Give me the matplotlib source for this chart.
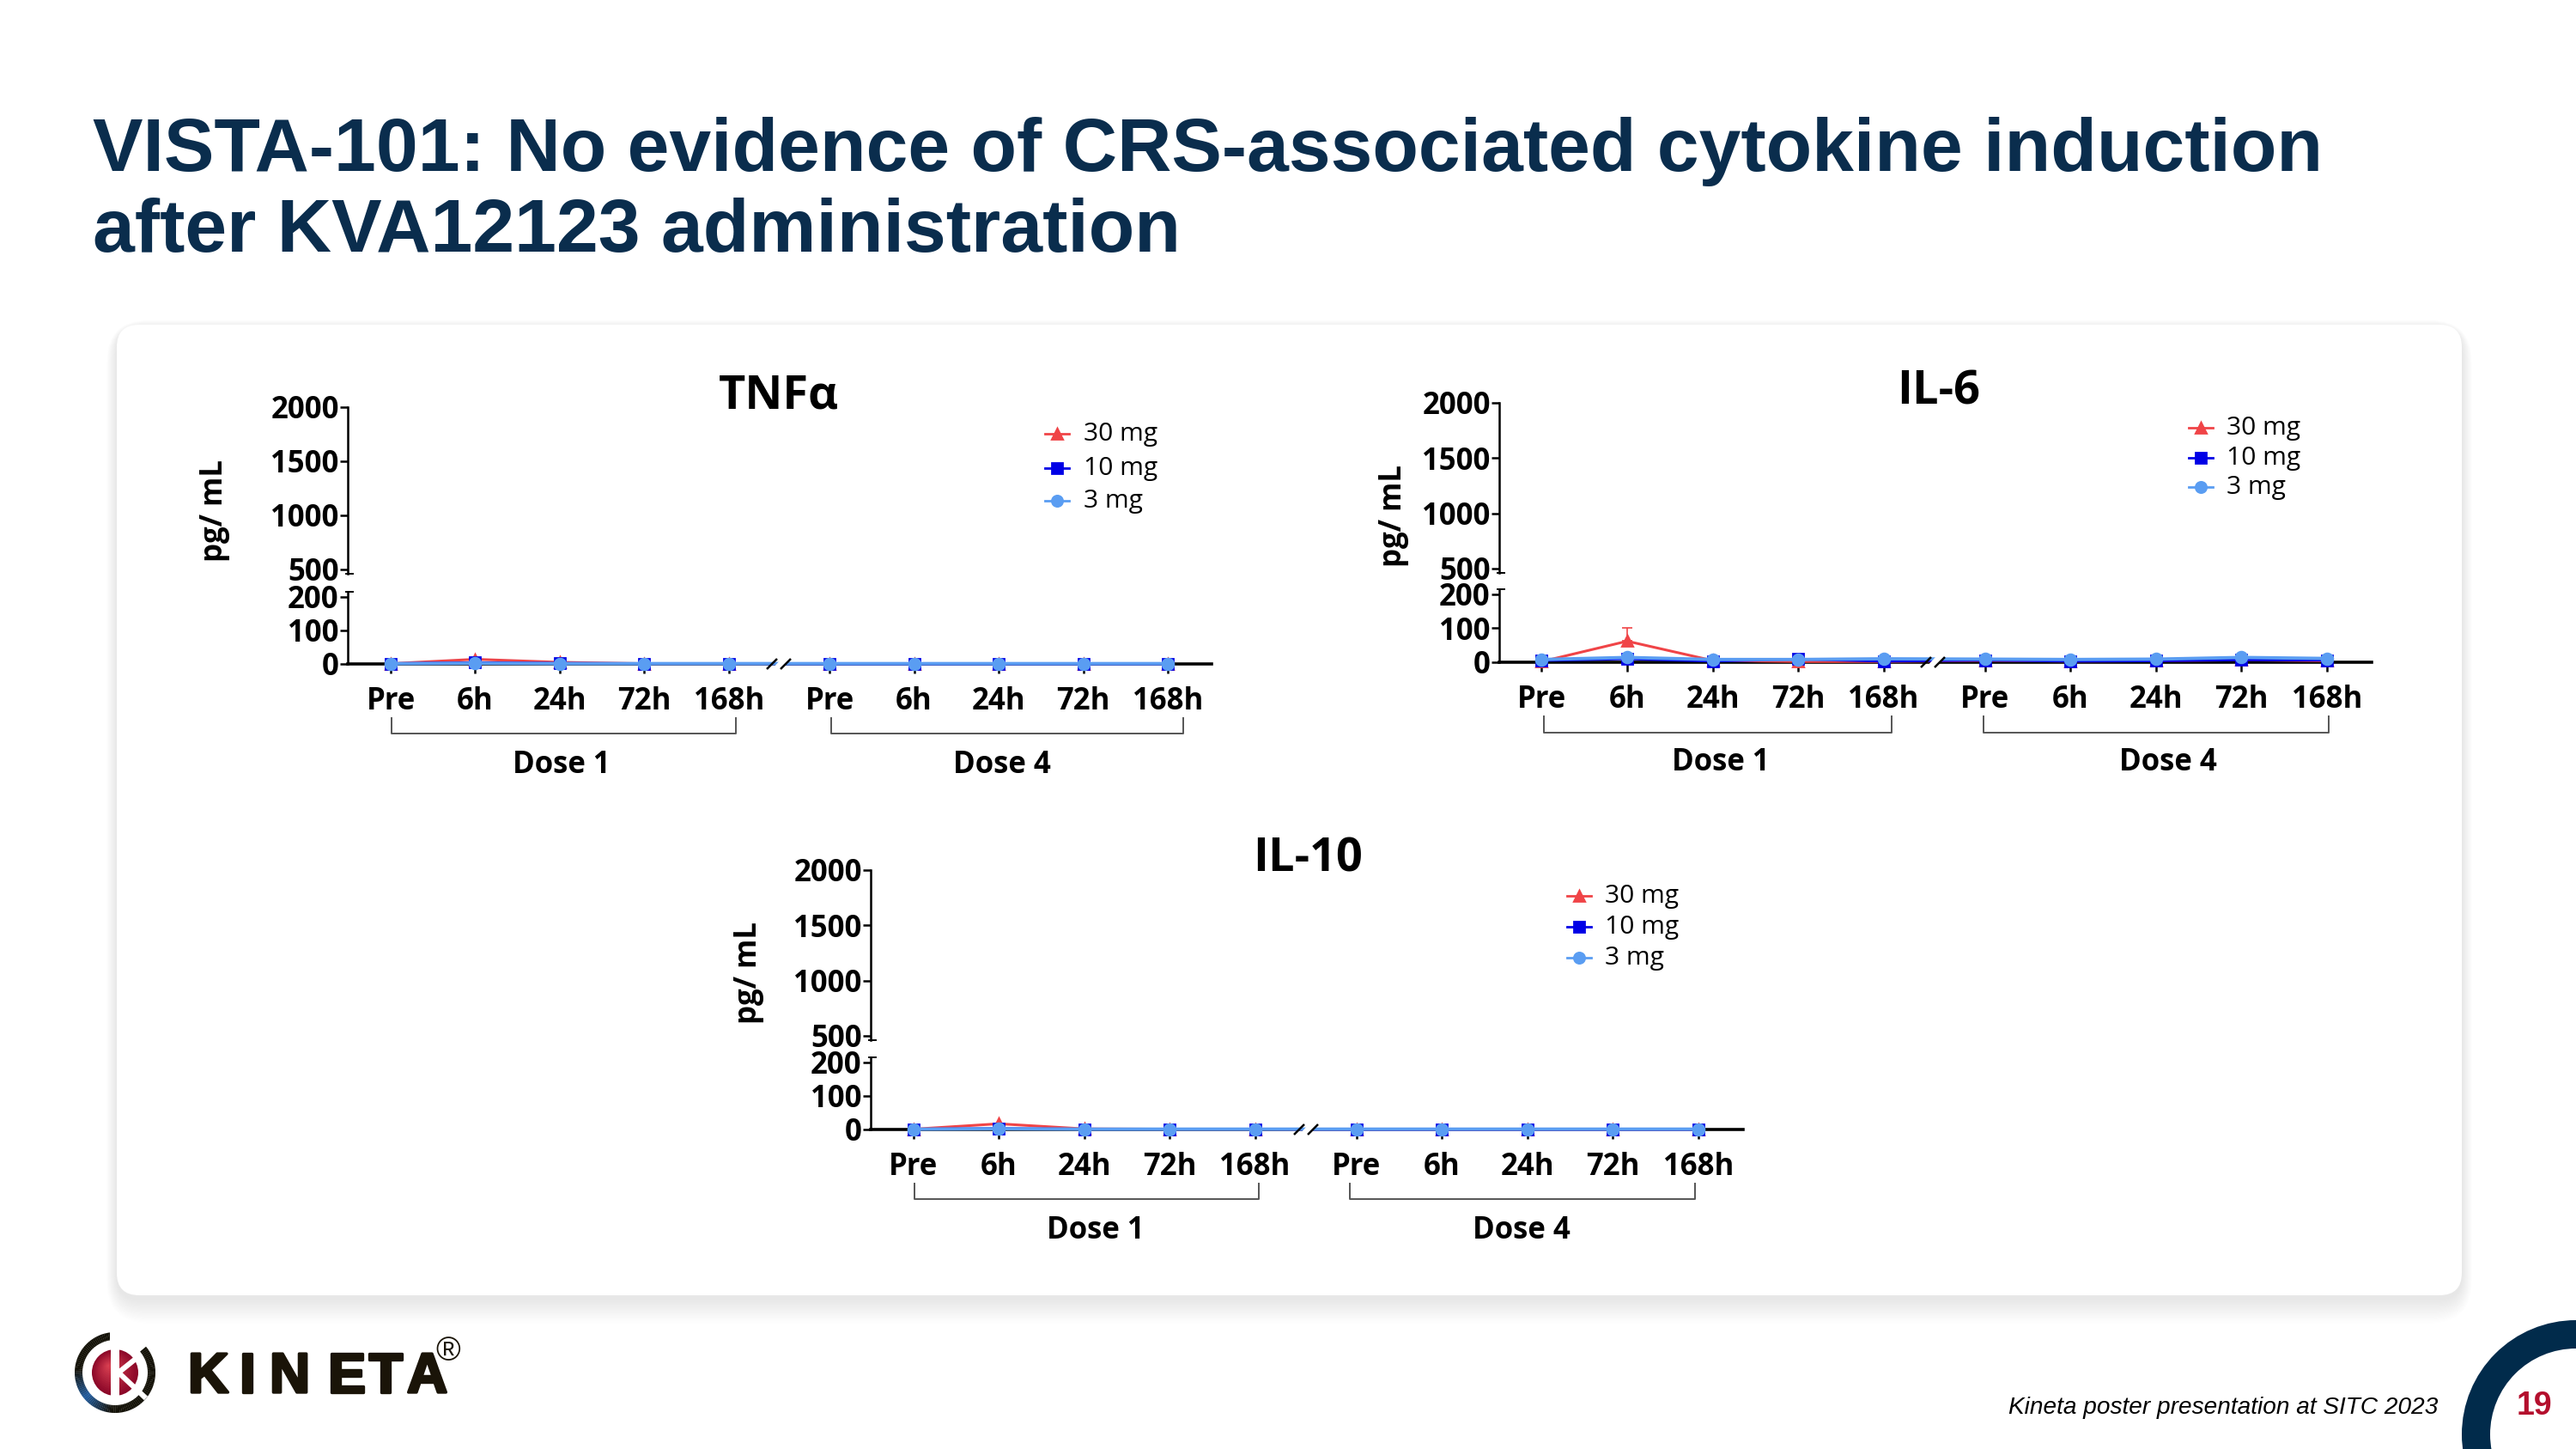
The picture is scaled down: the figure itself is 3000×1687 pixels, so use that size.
import matplotlib
matplotlib.use('Agg')
import matplotlib.pyplot as plt
from matplotlib.patches import FancyBboxPatch, Wedge, Circle, Rectangle, Polygon
import matplotlib.patheffects as pe
import numpy as np

W, H = 3000, 1687

TITLE_LINES = ['VISTA-101: No evidence of CRS-associated cytokine induction',
               'after KVA12123 administration']
FOOTER = 'Kineta poster presentation at SITC 2023'
PAGE = '19'

TIMES = ['Pre', '6h', '24h', '72h', '168h']
DOSES = ['Dose 1', 'Dose 4']
YTICKS_TOP = [500, 1000, 1500, 2000]
YTICKS_LOW = [0, 100, 200]
SERIES = ['30 mg', '10 mg', '3 mg']

# valores (pg/mL), dosis 1 + dosis 4
tnf_30 = [1, 14, 5, 1, 1, 1, 1, 1, 1, 1]
tnf_10 = [1, 4, 2, 1, 1, 0, 0, 0, 0, 0]
tnf_3 = [1, 2, 1, 1, 1, 1, 1, 1, 1, 1]

il6_30 = [2, 62, 5, 2, 2, 5, 3, 4, 7, 4]
il6_10 = [5, 10, 3, 9, 3, 6, 3, 4, 7, 6]
il6_3 = [8, 14, 8, 8, 10, 9, 8, 9, 14, 11]
il6_err = [0, 38, 0, 0, 0, 0, 0, 0, 0, 0]

il10_30 = [1, 17, 2, 1, 1, 0, 0, 0, 0, 0]
il10_10 = [1, 3, 1, 1, 1, 0, 0, 0, 0, 0]
il10_3 = [1, 2, 1, 1, 1, 1, 1, 1, 1, 1]

COL_30 = '#f04447'
COL_10 = '#0000e6'
COL_3 = '#5a9df2'
NAVY = '#0a2d4d'
TXT_FONT = 'Open Sans'

fig = plt.figure(figsize=(15, 8.435), dpi=200, facecolor='white')


def px_axes(x0, y_top, x1, y_bot, **kw):
    # ejes colocados en pixeles de la imagen
    return fig.add_axes([x0 / W, 1 - y_bot / H, (x1 - x0) / W, (y_bot - y_top) / H], **kw)


bg = fig.add_axes([0, 0, 1, 1], zorder=0)
bg.set_xlim(0, W)
bg.set_ylim(H, 0)
bg.axis('off')
fg = fig.add_axes([0, 0, 1, 1], zorder=5)
fg.set_xlim(0, W)
fg.set_ylim(H, 0)
fg.axis('off')
fg.patch.set_alpha(0)

# tarjeta con sombra
for i in range(24, 0, -1):
    bg.add_patch(FancyBboxPatch((136 - i * 0.5, 378 + 4 - i * 0.4), 2731 + i * 1.0, 1130 + i * 1.6,
                                boxstyle='round,pad=0,rounding_size=%d' % (26 + i), fc='#000000',
                                ec='none', alpha=0.0028))
bg.add_patch(FancyBboxPatch((136, 378), 2731, 1130, boxstyle='round,pad=0,rounding_size=26',
                            fc='white', ec='none'))

for k, line in enumerate(TITLE_LINES):
    bg.text(108, 176 + k * 94, line, fontsize=31.6, fontweight='bold', family='Liberation Sans',
            color=NAVY, va='center', ha='left')

xpos = np.r_[np.arange(5), np.arange(5) + 5.19]


def panel(name, d30, d10, d3, err, g):
    x0, x1, y2000, y_top_end, y_low_top, y0 = g['axis']
    step = (g['last'] - g['first']) / xpos[-1]
    xl = (-(g['first'] - x0) / step, (x1 - g['first']) / step)

    top = px_axes(x0, y2000, x1, y_top_end, zorder=2)
    low = px_axes(x0, y_low_top, x1, y0, zorder=3)
    for a in (top, low):
        a.patch.set_alpha(0)
        a.set_xlim(*xl)
        a.spines['top'].set_visible(False)
        a.spines['right'].set_visible(False)
        a.spines['left'].set_linewidth(0.9)
        a.tick_params(axis='y', length=3.2, width=0.9, pad=0.5, labelsize=12.5)
    top.set_ylim(460, 2000)
    top.set_yticks(YTICKS_TOP)
    top.spines['bottom'].set_visible(False)
    top.set_xticks([])
    low.set_ylim(0, 215)
    low.set_yticks(YTICKS_LOW)
    low.spines['bottom'].set_linewidth(1.3)
    low.set_xticks(xpos, TIMES + TIMES, fontsize=12.5)
    low.tick_params(axis='x', length=3.8, width=0.9, pad=5.5)
    for a in (top, low):
        for lab in a.get_xticklabels() + a.get_yticklabels():
            lab.set_family(TXT_FONT)
            lab.set_fontweight('bold')

    if err is not None:
        low.errorbar(xpos, d30, yerr=[np.zeros(10), err], fmt='none', ecolor=COL_30, elinewidth=0.6,
                     capsize=2.2, capthick=0.6, clip_on=False, zorder=3)
    low.plot(xpos, d30, color=COL_30, marker='^', ms=4.5, lw=1.1, clip_on=False, zorder=4)
    low.plot(xpos, d10, color=COL_10, marker='s', ms=4.3, lw=1.1, clip_on=False, zorder=5)
    low.plot(xpos, d3, color=COL_3, marker='o', ms=4.6, lw=1.4, clip_on=False, zorder=6)

    # corte del eje x
    xb = g['brk']
    fg.add_patch(Polygon([(xb - 8, y0 + 6), (xb + 3, y0 - 6), (xb + 13, y0 - 6), (xb + 2, y0 + 6)],
                         fc='white', ec='none'))
    for dx in (-8, 8):
        fg.plot([xb + dx - 6, xb + dx + 6], [y0 + 6, y0 - 6], color='black', lw=0.9, solid_capstyle='butt')
    # corte del eje y
    for yy in (y_top_end, y_low_top):
        fg.plot([x0 - 2, x0 + 6], [yy, yy], color='black', lw=0.7)

    fg.text(g['title'][0], g['title'][1], name, fontsize=19.5, fontweight='bold', family=TXT_FONT,
            ha='center', va='center')
    fg.text(g['ylab'][0], g['ylab'][1], 'pg/ mL', fontsize=12.5, fontweight='bold', family=TXT_FONT,
            rotation=90, ha='center', va='center')

    for (bx0, bx1), dose, dx in zip(g['brackets'], DOSES, g['dose_x']):
        fg.plot([bx0, bx0, bx1, bx1], [g['br_y'][0], g['br_y'][1], g['br_y'][1], g['br_y'][0]],
                color='#555555', lw=0.7)
        fg.text(dx, g['dose_y'], dose, fontsize=12.5, fontweight='bold', family=TXT_FONT,
                ha='center', va='center')

    lx, ltx = g['leg_x']
    for yy, lab, col, mk in zip(g['leg_y'], SERIES, [COL_30, COL_10, COL_3], ['^', 's', 'o']):
        fg.plot([lx - 14, lx + 14], [yy, yy], color=col, lw=1.0)
        fg.plot([lx], [yy], color=col, marker=mk, ms=4.4)
        fg.text(ltx, yy, lab, fontsize=10.8, family=TXT_FONT, ha='left', va='center')


panel('TNFα', tnf_30, tnf_10, tnf_3, None,
      dict(axis=(405, 1411, 474, 668, 689, 773), first=455, last=1360, brk=907, title=(907, 461), ylab=(250, 595),
           brackets=[(456, 857), (968, 1378)], dose_x=(654, 1167), br_y=(836, 854), dose_y=891,
           leg_x=(1231, 1262), leg_y=(505, 545, 583)))
panel('IL-6', il6_30, il6_10, il6_3, il6_err,
      dict(axis=(1746, 2762, 469, 667, 686, 771), first=1795.5, last=2710, brk=2251, title=(2258, 456), ylab=(1623, 600),
           brackets=[(1798, 2203), (2310, 2712)], dose_x=(2004, 2525), br_y=(834, 853), dose_y=888,
           leg_x=(2563, 2593), leg_y=(498, 533, 567)))
panel('IL-10', il10_30, il10_10, il10_3, None,
      dict(axis=(1014, 2030, 1013, 1211, 1231, 1315), first=1063.5, last=1978, brk=1521, title=(1523, 1000), ylab=(872, 1133),
           brackets=[(1065, 1466), (1572, 1974)], dose_x=(1276, 1772), br_y=(1378, 1396), dose_y=1433,
           leg_x=(1839, 1869), leg_y=(1043, 1079, 1115)))

# pie de pagina
fg.text(2839, 1639, FOOTER, fontsize=10.1, style='italic', family='Liberation Sans', ha='right', va='center')
fg.add_patch(Wedge((3000, 1670), 133, 90, 270, width=33, fc='#012b4b', ec='none', clip_on=True))
fg.text(2951, 1637, PAGE, fontsize=13.5, fontweight='bold', family='Liberation Sans', color='#b40f2d',
        ha='center', va='center')

# logo
cx, cy = 134, 1598
for a0 in np.arange(-40, 263, 3):
    a = (a0 + 1.5) % 360
    t = np.clip(1 - abs(a - 140) / 45, 0, 1)
    col = np.array([0.08, 0.07, 0.03]) * (1 - t) + np.array([0.13, 0.36, 0.62]) * t
    fg.add_patch(Wedge((cx, cy), 47, a0, a0 + 3.3, width=9, fc=col, ec='none'))
fg.add_patch(Rectangle((cx - 6, cy - 50), 11, 24, fc='white', ec='none'))
for r, col in zip(np.arange(27, 0, -2), np.linspace(0, 1, 14)):
    c = np.array([0.55, 0.03, 0.16]) * (1 - col) + np.array([0.85, 0.25, 0.32]) * col
    off = (27 - r) * 0.3
    fg.add_patch(Circle((cx - off, cy - off), r, fc=c, ec='none'))
fg.add_patch(Rectangle((cx - 5, cy - 30), 10, 60, fc='white', ec='none'))
fg.plot([cx + 4, cx + 29], [cy, cy - 20], color='white', lw=2.2, solid_capstyle='butt')
fg.plot([cx + 4, cx + 36], [cy, cy + 30], color='white', lw=2.2, solid_capstyle='butt')
for letter, lx in zip('KINETA', [219, 279, 314, 382, 429, 474]):
    fg.text(lx, 1621, letter, fontsize=23.5, fontweight='bold', family='Liberation Sans', color='#1a1408',
            ha='left', va='baseline',
            path_effects=[pe.withStroke(linewidth=1.2, foreground='#1a1408')])
fg.text(522, 1574, '®', fontsize=14, family='Liberation Sans', color='#1a1408', ha='center', va='center')

fig.savefig('out.png', dpi=200)
